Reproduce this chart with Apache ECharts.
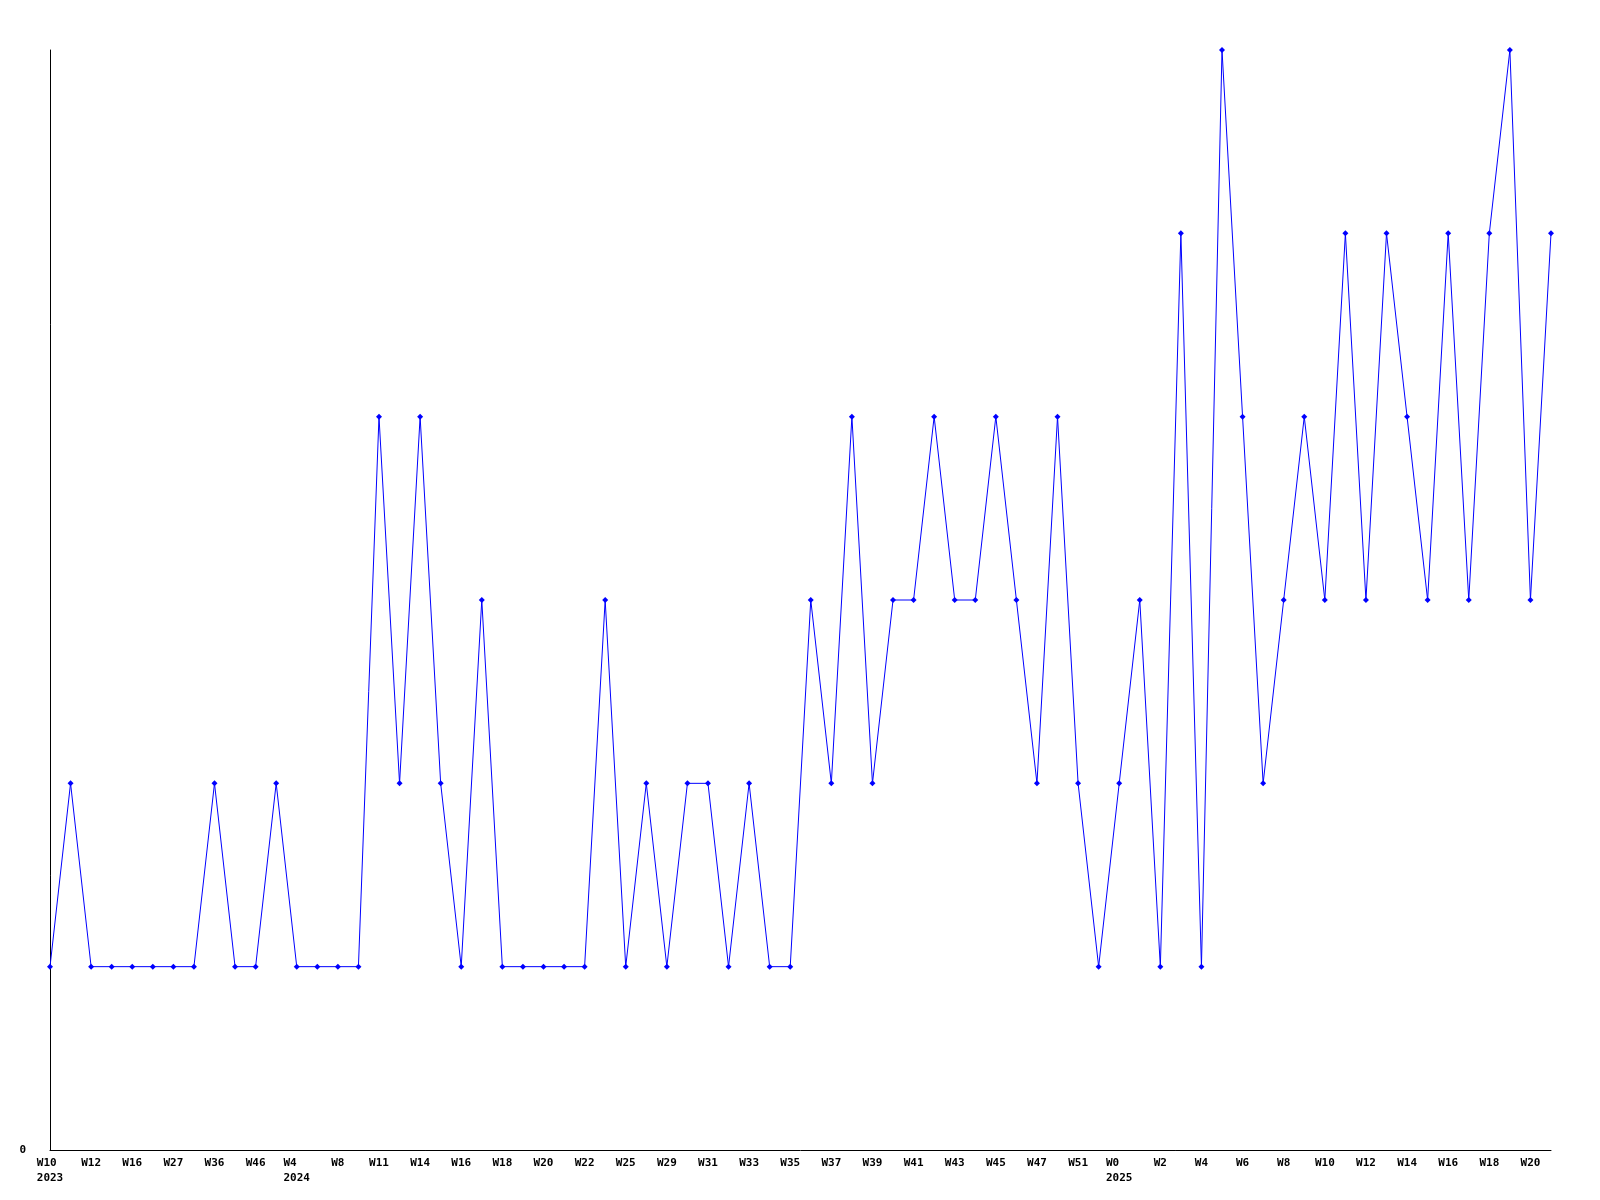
<!DOCTYPE html>
<html>
<head>
<meta charset="utf-8">
<script src="https://cdn.jsdelivr.net/npm/echarts@6/dist/echarts.min.js"></script>
<style>html,body{margin:0;padding:0;background:#fff}#c{width:1600px;height:1200px}</style>
</head>
<body>
<div id="c"></div>
<script>
const categories = [
  "W10 \n2023","W11","W12","W14","W16","W20","W27","W30","W36","W40","W46","W50",
  "W4  \n2024","W6","W8","W9","W11","W12","W14","W15","W16","W17","W18","W19","W20","W21","W22","W24",
  "W25","W27","W29","W30","W31","W32","W33","W34","W35","W36","W37","W38","W39","W40",
  "W41","W42","W43","W44","W45","W46","W47","W49","W51","W52",
  "W0  \n2025","W1","W2","W3","W4","W5","W6","W7","W8","W9","W10","W11","W12","W13",
  "W14","W15","W16","W17","W18","W19","W20","W21"
];
const values = [
  1,2,1,1,1,1,1,1,2,1,1,2,1,1,1,1,4,2,4,2,1,3,1,1,1,1,1,3,1,2,
  1,2,2,1,2,1,1,3,2,4,2,3,3,4,3,3,4,3,2,4,2,1,2,3,1,5,1,6,4,2,
  3,4,3,5,3,5,4,3,5,3,5,6,3,5
];
const chart = echarts.init(document.getElementById('c'));
const font = {fontFamily: 'DejaVu Sans Mono', fontWeight: 'bold', fontSize: 11, color: '#000'};
chart.setOption({
  animation: false,
  backgroundColor: '#fff',
  grid: {left: 50, right: 49, top: 50, bottom: 50, containLabel: false},
  xAxis: {
    type: 'category', data: categories, boundaryGap: false,
    axisLine: {lineStyle: {color: '#000', width: 1}},
    axisTick: {show: false},
    splitLine: {show: false},
    axisLabel: Object.assign({interval: 1, margin: 6, lineHeight: 15}, font)
  },
  yAxis: {
    type: 'value', min: 0, max: 6, interval: 6,
    axisLine: {show: true, lineStyle: {color: '#000', width: 1}},
    axisTick: {show: false},
    splitLine: {show: false},
    axisLabel: Object.assign({margin: 24, formatter: v => v === 0 ? '0' : ''}, font)
  },
  series: [{
    type: 'line', data: values,
    symbol: 'diamond', symbolSize: 6,
    lineStyle: {color: '#0000ff', width: 1},
    itemStyle: {color: '#0000ff'}
  }]
});
</script>
</body>
</html>
